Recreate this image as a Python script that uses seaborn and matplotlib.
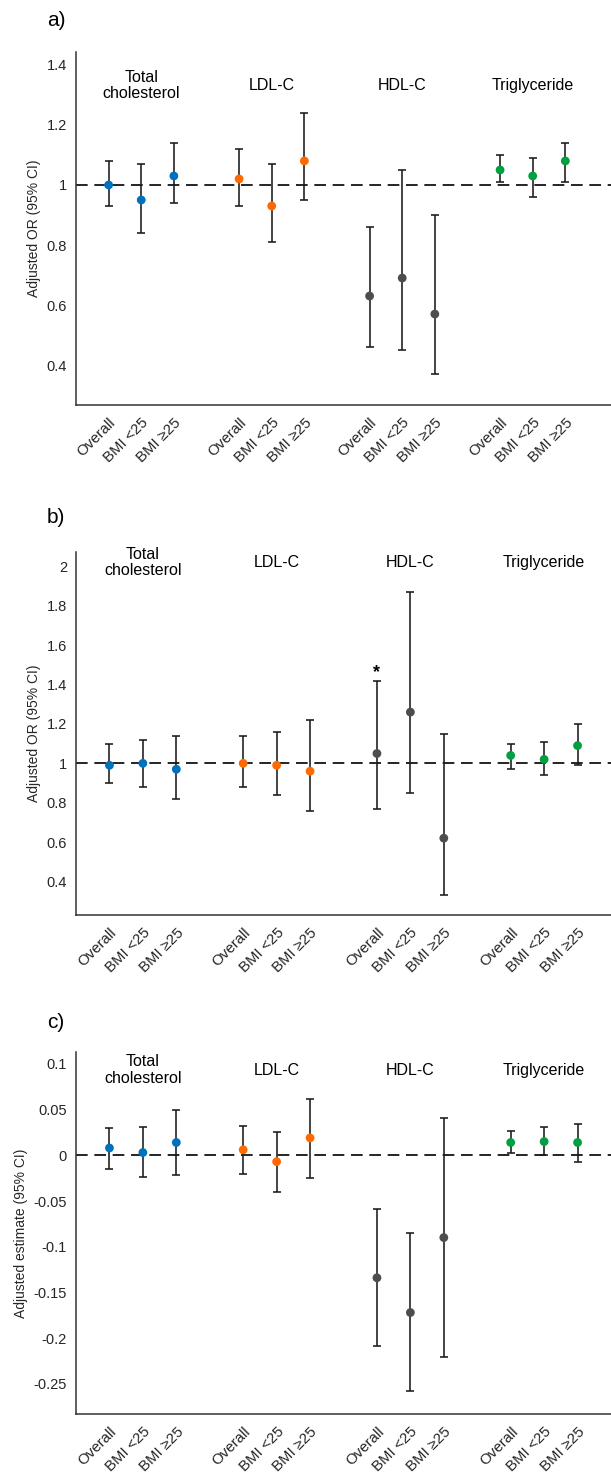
import numpy as np
import pandas as pd
import matplotlib
matplotlib.use('Agg')
import matplotlib.pyplot as plt
import seaborn as sns
from matplotlib.transforms import blended_transform_factory

# ---------------- data ----------------
lipids = ['Total\ncholesterol', 'LDL-C', 'HDL-C', 'Triglyceride']
subgroups = ['Overall', 'BMI <25', 'BMI ≥25']
colors = ['#0072BD', '#FF6A00', '#4D4D4D', '#00A040']

a_est = [1.00, 0.95, 1.03, 1.02, 0.93, 1.08, 0.63, 0.69, 0.57, 1.05, 1.03, 1.08]
a_lo = [0.93, 0.84, 0.94, 0.93, 0.81, 0.95, 0.46, 0.45, 0.37, 1.01, 0.96, 1.01]
a_hi = [1.08, 1.07, 1.14, 1.12, 1.07, 1.24, 0.86, 1.05, 0.90, 1.10, 1.09, 1.14]

b_est = [0.99, 1.00, 0.97, 1.00, 0.99, 0.96, 1.05, 1.26, 0.62, 1.04, 1.02, 1.09]
b_lo = [0.90, 0.88, 0.82, 0.88, 0.84, 0.76, 0.77, 0.85, 0.33, 0.97, 0.94, 0.99]
b_hi = [1.10, 1.12, 1.14, 1.14, 1.16, 1.22, 1.42, 1.87, 1.15, 1.10, 1.11, 1.20]

c_est = [0.008, 0.003, 0.014, 0.006, -0.007, 0.019, -0.134, -0.172, -0.090, 0.014, 0.015, 0.014]
c_lo = [-0.015, -0.024, -0.022, -0.020, -0.040, -0.025, -0.209, -0.258, -0.221, 0.002, 0.000, -0.007]
c_hi = [0.030, 0.031, 0.050, 0.032, 0.026, 0.062, -0.059, -0.085, 0.041, 0.027, 0.031, 0.034]

a_yticks = [0.4, 0.6, 0.8, 1.0, 1.2, 1.4]
a_yticklabels = ['0.4', '0.6', '0.8', '1', '1.2', '1.4']
b_yticks = [0.4, 0.6, 0.8, 1.0, 1.2, 1.4, 1.6, 1.8, 2.0]
b_yticklabels = ['0.4', '0.6', '0.8', '1', '1.2', '1.4', '1.6', '1.8', '2']
c_yticks = [-0.25, -0.2, -0.15, -0.1, -0.05, 0.0, 0.05, 0.1]
c_yticklabels = ['-0.25', '-0.2', '-0.15', '-0.1', '-0.05', '0', '0.05', '0.1']

ref_or = 1.0
ref_est = 0.0
sig_b = ['', '', '', '', '', '', '*', '', '', '', '', '']

# ---------------- style ----------------
sns.set_theme(style='white')
plt.rcParams['font.family'] = ['Liberation Sans', 'DejaVu Sans']
plt.rcParams['axes.edgecolor'] = '#333333'
plt.rcParams['axes.linewidth'] = 1.1
plt.rcParams['xtick.color'] = '#333333'
plt.rcParams['ytick.color'] = '#333333'
plt.rcParams['xtick.labelcolor'] = '#262626'
plt.rcParams['ytick.labelcolor'] = '#262626'

fig = plt.figure(figsize=(6.11, 14.77), dpi=100)
W, H = 611, 1477


def px_axes(left, top, right, bottom):
    return fig.add_axes([left / W, 1 - bottom / H, (right - left) / W, (bottom - top) / H])


def draw(ax, est, lo, hi, ref, ylim, xlim, yticks, yticklabels, ylabel, title_y, sig=None):
    df = pd.DataFrame({
        'lipid': np.repeat(lipids, 3),
        'sub': subgroups * 4,
        'est': est, 'lo': lo, 'hi': hi,
    })
    df['pos'] = np.repeat(np.arange(4), 3) * 4 + np.tile(np.arange(3), 4) + 1
    ax.axhline(ref, color='black', lw=1.2, ls=(0, (7, 4)), zorder=1)
    ax.errorbar(df['pos'], df['est'], yerr=[df['est'] - df['lo'], df['hi'] - df['est']],
                fmt='none', ecolor='#1a1a1a', elinewidth=1.15, capsize=3, capthick=1.15, zorder=2)
    sns.scatterplot(data=df, x='pos', y='est', hue='lipid', palette=colors, s=40,
                    linewidth=0, legend=False, ax=ax, zorder=3)
    ax.set_xlim(*xlim)
    ax.set_ylim(*ylim)
    ax.set_yticks(yticks)
    ax.set_yticklabels(yticklabels, fontsize=10.5)
    ax.set_xticks(df['pos'])
    ax.set_xticklabels(df['sub'], rotation=45, ha='right', va='top',
                       rotation_mode='anchor', fontsize=10.8)
    ax.tick_params(axis='both', direction='out', length=2.5, width=1.0, pad=4)
    ax.tick_params(axis='x', pad=5)
    ax.set_xlabel('')
    ax.set_ylabel(ylabel, fontsize=10, color='#262626', labelpad=4)
    sns.despine(ax=ax)
    tr = blended_transform_factory(ax.transData, ax.transAxes)
    for i, name in enumerate(lipids):
        ax.text(i * 4 + 2, title_y, name, transform=tr, ha='center', va='center',
                fontsize=11.5, linespacing=1.1, color='black')
    if sig is not None:
        for p, h, s in zip(df['pos'], df['hi'], sig):
            if s:
                ax.annotate(s, (p, h), xytext=(0, 0), textcoords='offset points',
                            ha='center', va='bottom', fontsize=13, fontweight='bold',
                            color='black')


ax_a = px_axes(76, 52, 611, 405)
draw(ax_a, a_est, a_lo, a_hi, ref_or, (0.267, 1.443), (0, 16.4), a_yticks, a_yticklabels,
     'Adjusted OR (95% CI)', 0.904)

ax_b = px_axes(76, 552, 611, 915)
draw(ax_b, b_est, b_lo, b_hi, ref_or, (0.23, 2.073), (0, 16.0), b_yticks, b_yticklabels,
     'Adjusted OR (95% CI)', 0.970, sig=sig_b)

ax_c = px_axes(76, 1052, 611, 1414)
draw(ax_c, c_est, c_lo, c_hi, ref_est, (-0.283, 0.113), (0, 16.0), c_yticks, c_yticklabels,
     'Adjusted estimate (95% CI)', 0.950)

for lab, y in [('a)', 20), ('b)', 517), ('c)', 1023)]:
    fig.text(47 / W, 1 - y / H, lab, fontsize=15, ha='left', va='center', color='black')

fig.savefig('out.png', dpi=100)
